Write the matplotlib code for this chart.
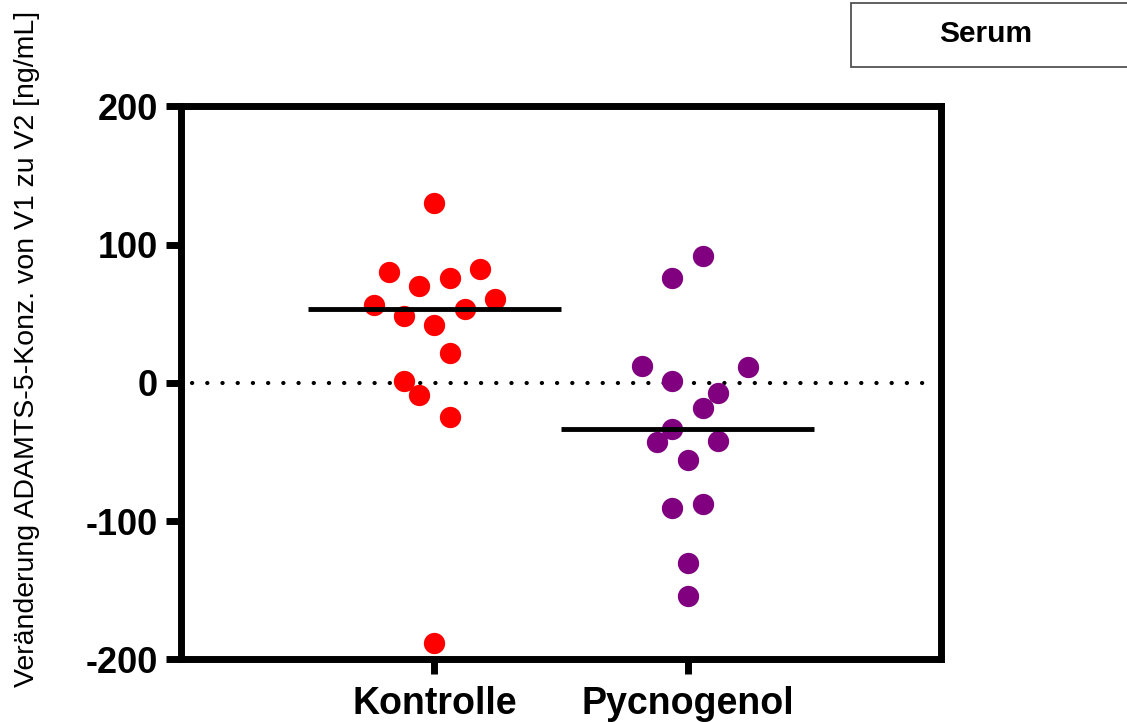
import numpy as np
import matplotlib
matplotlib.use("Agg")
import matplotlib.pyplot as plt
from matplotlib.patches import Rectangle

plt.rcParams['font.family'] = ['Liberation Sans', 'DejaVu Sans']

# Data
groups = ['Kontrolle', 'Pycnogenol']
colors = ['#ff0000', '#800080']
kontrolle = [130.4, 80.1, 69.9, 75.9, 82.2, 60.5, 56.2, 48.5, 42.2, 53.8,
             21.5, 1.4, -8.7, -24.6, -188.3]
kontrolle_slot = [0, -3, -1, 1, 3, 4, -4, -2, 0, 2, 1, -2, -1, 1, 0]
pycnogenol = [91.9, 75.9, 12.3, 11.6, 1.4, -7.2, -18.1, -33.3, -42.7, -42.0,
              -55.7, -90.4, -87.5, -130.2, -154.1]
pycnogenol_slot = [1, -1, -3, 4, -1, 2, 1, -1, -2, 2, 0, -1, 1, 0, 0]
yticks = [-200, -100, 0, 100, 200]

values = [kontrolle, pycnogenol]
slots = [kontrolle_slot, pycnogenol_slot]
step = 0.06  # horizontal spread between neighbouring dots

fig = plt.figure(figsize=(11.27, 7.22), dpi=100)
ax = fig.add_axes([0.1606, 0.0866, 0.6744, 0.7659])

# dotted zero line
ax.axhline(0, xmin=0.015, xmax=0.985, color='black', lw=3,
           linestyle=(0, (0.05, 3.6)), dash_capstyle='round', zorder=1)

for i, (vals, sl) in enumerate(zip(values, slots)):
    x = i + step * np.array(sl)
    ax.scatter(x, vals, s=235, color=colors[i], linewidths=0, zorder=2)
    med = np.median(vals)
    ax.plot([i - 0.5, i + 0.5], [med, med], color='black', lw=3.5,
            solid_capstyle='butt', zorder=3)

ax.set_xlim(-1, 2)
ax.set_ylim(-200, 200)
ax.set_xticks([0, 1])
ax.set_xticklabels(groups, fontsize=27, fontweight='bold')
ax.set_yticks(yticks)
ax.set_yticklabels([str(t) for t in yticks], fontsize=26, fontweight='bold')
ax.tick_params(axis='both', length=10.8, width=5, direction='out')
ax.tick_params(axis='y', pad=6)
ax.tick_params(axis='x', pad=8)
for sp in ax.spines.values():
    sp.set_linewidth(5)

fig.text(27 / 1127, 1 - 349 / 722,
         'Veränderung ADAMTS-5-Konz. von V1 zu V2 [ng/mL]',
         rotation=90, fontsize=20.5, ha='center', va='center')

# "Serum" box at top right
fig.patches.append(Rectangle((851 / 1127, 1 - 67 / 722), 300 / 1127, 64 / 722,
                             transform=fig.transFigure, facecolor='white',
                             edgecolor='#444444', lw=1.2))
fig.text(985.5 / 1127, 1 - 34 / 722, 'Serum', fontsize=21.5,
         fontweight='bold', ha='center', va='center')

fig.savefig('out.png', dpi=100)
